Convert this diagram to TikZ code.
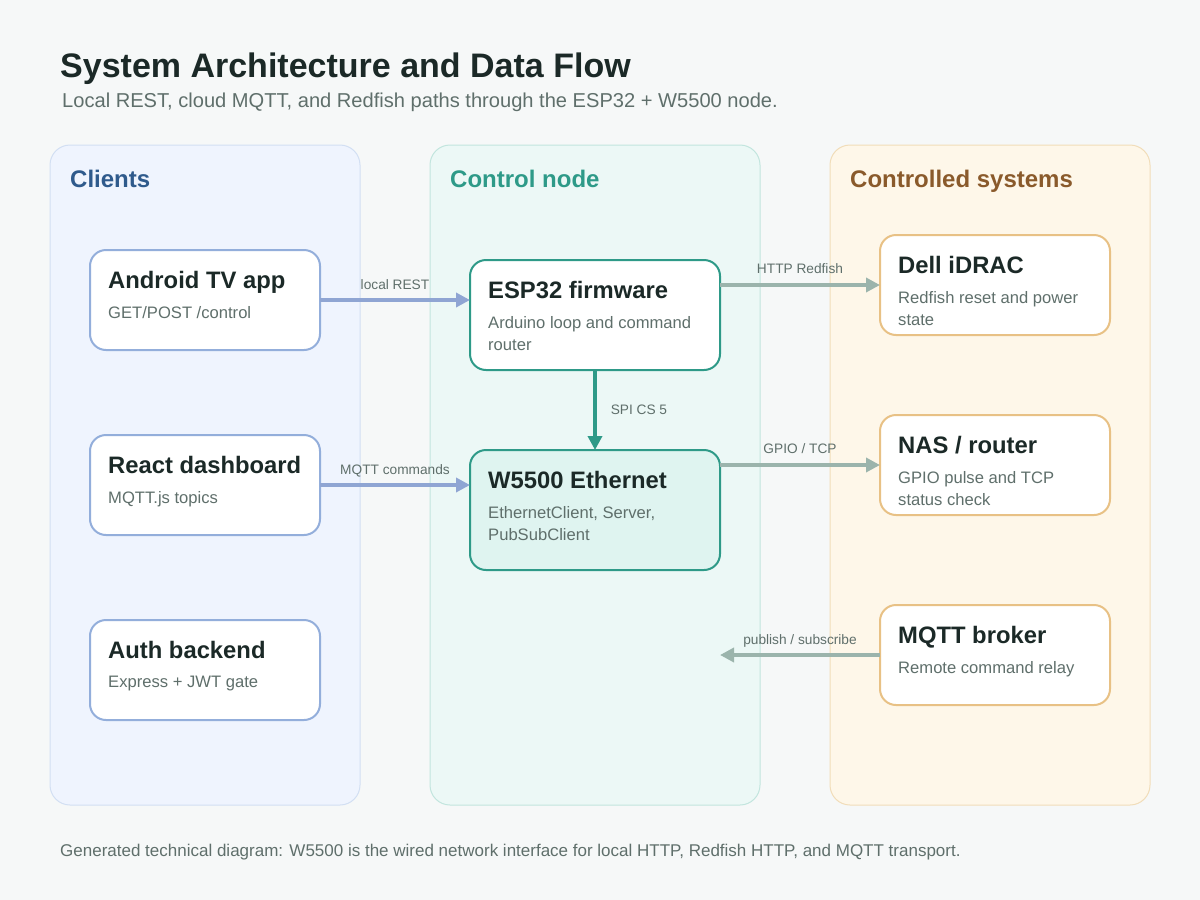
\documentclass[tikz,border=0pt]{standalone}
\usepackage{fontspec}
\setmainfont{Liberation Sans}
\usetikzlibrary{arrows.meta,positioning}

\definecolor{pagebg}{HTML}{F6F8F8}
\definecolor{ink}{HTML}{1B2927}
\definecolor{muted}{HTML}{5F6F6B}
\definecolor{clientfill}{HTML}{EFF4FE}
\definecolor{clientline}{HTML}{D2DFF3}
\definecolor{clientedge}{HTML}{93AEDB}
\definecolor{clientarrow}{HTML}{8FA5D3}
\definecolor{clienttext}{HTML}{2F5A8C}
\definecolor{nodefill}{HTML}{ECF8F6}
\definecolor{nodeline}{HTML}{C2E5DE}
\definecolor{teal}{HTML}{2E9A88}
\definecolor{wizfill}{HTML}{DFF4F0}
\definecolor{sysfill}{HTML}{FEF7E9}
\definecolor{sysline}{HTML}{F1DDB9}
\definecolor{sysedge}{HTML}{E8C185}
\definecolor{systext}{HTML}{8A5A2B}
\definecolor{grayarrow}{HTML}{9BB4AC}

\tikzset{
  panel/.style={draw, line width=1pt, rounded corners=20pt, inner sep=0pt, outer sep=0pt,
    minimum height=660pt, anchor=north west},
  paneltitle/.style={anchor=base west, inner sep=0pt, font=\fontsize{24}{29}\selectfont\bfseries},
  card/.style={draw, fill=white, line width=2pt, rounded corners=16pt, inner sep=0pt, outer sep=0pt,
    minimum width=230pt, minimum height=100pt, anchor=north west},
  cardtitle/.style={anchor=base west, inner sep=0pt, text=ink, font=\fontsize{23.8}{28}\selectfont\bfseries},
  carddesc/.style={anchor=north west, inner sep=0pt, text=muted, align=left,
    font=\fontsize{16.6}{22}\selectfont},
  flow/.style={line width=3.5pt, -{Triangle[length=14pt,width=14pt]}},
  flowlabel/.style={inner sep=0pt, text=muted, font=\fontsize{13.7}{16}\selectfont}
}

\begin{document}
\begin{tikzpicture}[x=1pt,y=-1pt]
\fill[pagebg] (0,0) rectangle (1200,900);

\node[anchor=base west, inner sep=0pt, text=ink, font=\fontsize{34}{40}\selectfont\bfseries] (title) at (60,77) {System Architecture and Data Flow};
\node[anchor=base west, inner sep=0pt, text=muted, font=\fontsize{20.1}{24}\selectfont] (subtitle) at (62,107) {Local REST, cloud MQTT, and Redfish paths through the ESP32 + W5500 node.};

\node[panel, fill=clientfill, draw=clientline, minimum width=310pt] (clients) at (50,145) {};
\node[panel, fill=nodefill, draw=nodeline, minimum width=330pt] (control) at (430,145) {};
\node[panel, fill=sysfill, draw=sysline, minimum width=320pt] (systems) at (830,145) {};

\node[paneltitle, text=clienttext] (clients-t) at ([xshift=20pt,yshift=-42pt]clients.north west) {Clients};
\node[paneltitle, text=teal] (control-t) at ([xshift=20pt,yshift=-42pt]control.north west) {Control node};
\node[paneltitle, text=systext] (systems-t) at ([xshift=20pt,yshift=-42pt]systems.north west) {Controlled systems};

\node[card, draw=clientedge] (android) at (90,250) {};
\node[card, draw=clientedge] (react) at (90,435) {};
\node[card, draw=clientedge] (auth) at (90,620) {};
\node[card, draw=teal, minimum width=250pt, minimum height=110pt] (esp) at (470,260) {};
\node[card, draw=teal, fill=wizfill, minimum width=250pt, minimum height=120pt] (wiz) at (470,450) {};
\node[card, draw=sysedge] (dell) at (880,235) {};
\node[card, draw=sysedge] (nas) at (880,415) {};
\node[card, draw=sysedge] (broker) at (880,605) {};

\node[cardtitle] (android-t) at ([xshift=18pt,yshift=-38pt]android.north west) {Android TV app};
\node[carddesc] (android-d) at ([xshift=18pt,yshift=-56pt]android.north west) {GET/POST /control};
\node[cardtitle] (react-t) at ([xshift=18pt,yshift=-38pt]react.north west) {React dashboard};
\node[carddesc] (react-d) at ([xshift=18pt,yshift=-56pt]react.north west) {MQTT.js topics};
\node[cardtitle] (auth-t) at ([xshift=18pt,yshift=-38pt]auth.north west) {Auth backend};
\node[carddesc] (auth-d) at ([xshift=18pt,yshift=-56pt]auth.north west) {Express + JWT gate};

\node[cardtitle] (esp-t) at ([xshift=18pt,yshift=-38pt]esp.north west) {ESP32 firmware};
\node[carddesc] (esp-d) at ([xshift=18pt,yshift=-56pt]esp.north west) {Arduino loop and command\\router};
\node[cardtitle] (wiz-t) at ([xshift=18pt,yshift=-38pt]wiz.north west) {W5500 Ethernet};
\node[carddesc] (wiz-d) at ([xshift=18pt,yshift=-56pt]wiz.north west) {EthernetClient, Server,\\PubSubClient};

\node[cardtitle] (dell-t) at ([xshift=18pt,yshift=-38pt]dell.north west) {Dell iDRAC};
\node[carddesc] (dell-d) at ([xshift=18pt,yshift=-56pt]dell.north west) {Redfish reset and power\\state};
\node[cardtitle] (nas-t) at ([xshift=18pt,yshift=-38pt]nas.north west) {NAS / router};
\node[carddesc] (nas-d) at ([xshift=18pt,yshift=-56pt]nas.north west) {GPIO pulse and TCP\\status check};
\node[cardtitle] (broker-t) at ([xshift=18pt,yshift=-38pt]broker.north west) {MQTT broker};
\node[carddesc] (broker-d) at ([xshift=18pt,yshift=-56pt]broker.north west) {Remote command relay};

\coordinate (relay-end) at (broker.west -| wiz.east);

\draw[flow, clientarrow] (android.east) -- (android.east -| esp.west)
  node[flowlabel, midway, anchor=base, yshift=11pt] {local REST};
\draw[flow, clientarrow] (react.east) -- (react.east -| wiz.west)
  node[flowlabel, midway, anchor=base, yshift=11pt] {MQTT commands};
\draw[flow, teal] (esp.south) -- (wiz.north)
  node[flowlabel, midway, anchor=base west, xshift=14pt, yshift=-4pt] {SPI CS 5};
\draw[flow, grayarrow] (dell.west -| esp.east) -- (dell.west)
  node[flowlabel, midway, anchor=base, yshift=12pt] {HTTP Redfish};
\draw[flow, grayarrow] (nas.west -| wiz.east) -- (nas.west)
  node[flowlabel, midway, anchor=base, yshift=12pt] {GPIO / TCP};
\draw[flow, grayarrow] (broker.west) -- (relay-end)
  node[flowlabel, midway, anchor=base, yshift=11pt] {publish / subscribe};

\node[anchor=base west, inner sep=0pt, text=muted, font=\fontsize{17}{20}\selectfont] (footer) at (60,856) {Generated technical diagram: W5500 is the wired network interface for local HTTP, Redfish HTTP, and MQTT transport.};
\end{tikzpicture}
\end{document}
